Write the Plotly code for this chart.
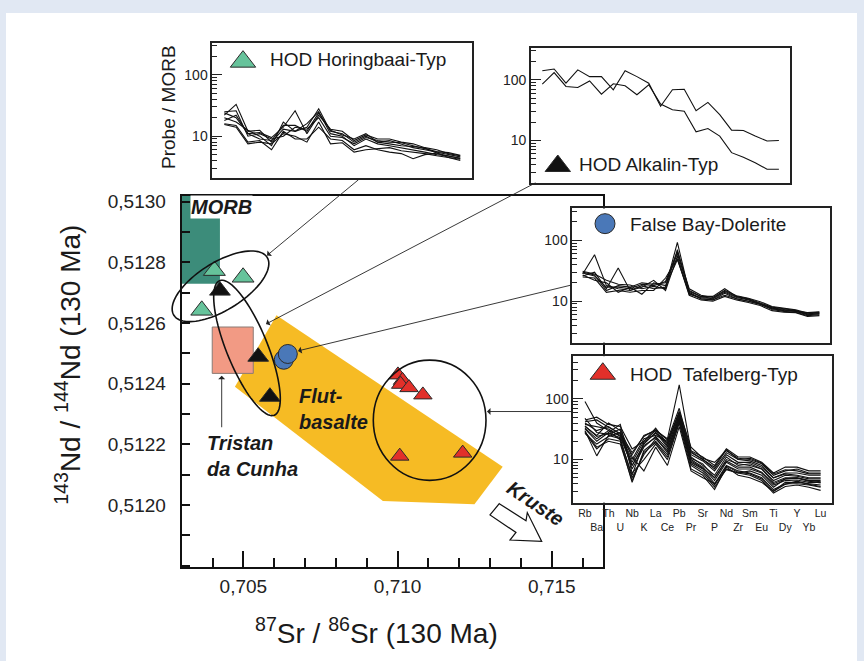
import numpy as np
import plotly.graph_objects as go

W, H = 864, 661
FONT = "Liberation Sans, Arial, sans-serif"


def PX(x):
    return x / W


def PY(y):
    return 1 - y / H


# ---------------- data ----------------
elements = ["Rb", "Ba", "Th", "U", "Nb", "K", "La", "Ce", "Pb", "Pr", "Sr",
            "P", "Nd", "Zr", "Sm", "Eu", "Ti", "Dy", "Y", "Yb", "Lu"]

# Sr-Nd isotope data (main diagram)
horingbaai_sr = [0.70406, 0.70499, 0.70365]
horingbaai_nd = [0.512773, 0.512751, 0.512642]
alkalin_sr = [0.70424, 0.70548, 0.70586]
alkalin_nd = [0.512707, 0.512489, 0.512357]
falsebay_sr = [0.70631, 0.70644]
falsebay_nd = [0.512479, 0.512498]
tafelberg_sr = [0.71001, 0.71016, 0.71010, 0.71037, 0.71082, 0.71007, 0.71211]
tafelberg_nd = [0.512429, 0.512411, 0.512398, 0.512387, 0.512363, 0.512161, 0.512171]

# fields
morb_sr = [0.70300, 0.70424]
morb_nd = [0.51273, 0.51302]
tristan_sr = [0.70399, 0.70532]
tristan_nd = [0.512434, 0.512587]
flood_sr = [0.706074, 0.713408, 0.712492, 0.709524, 0.704725]
flood_nd = [0.512626, 0.512126, 0.512002, 0.512013, 0.512390]

# spider diagrams (sample / MORB)
horingbaai_spider = [
    [22, 33, 12, 12.5, 8, 13, 12, 14, 28, 12, 11, 8, 10, 8, 8.5, 7.5, 6.5, 6, 5.5, 5, 4.6],
    [24, 20, 11, 11.5, 9.5, 14, 26, 11, 22, 13, 12, 8.5, 10.5, 9, 9, 8, 7.5, 6.5, 6, 5.2, 4.8],
    [20, 17, 12.5, 10, 7, 17, 12, 16, 25, 11, 10, 7, 9, 7.5, 7, 6.5, 6, 5.5, 5, 4.8, 4.3],
    [16, 15, 8, 8.5, 6, 12, 9, 9, 14, 9, 8.5, 6, 7, 6, 5.5, 5.2, 4.3, 5, 5.3, 4.5, 4.0],
    [15.5, 14, 7.5, 8, 7.5, 11, 10, 8, 17, 7.5, 7.8, 5.5, 6, 6.3, 6.5, 5.8, 5.5, 5.2, 4.8, 4.5, 4.2],
    [25, 26, 10, 11, 9, 10, 14, 13, 20, 10, 9.5, 7.5, 9.5, 8.5, 8, 7.8, 7, 6.2, 5.6, 5.4, 4.9],
    [18, 22, 11, 9, 8.5, 15, 15, 12, 24, 12.5, 10.5, 9, 11, 8, 7.5, 7, 6.8, 6.4, 5.3, 4.7, 4.4],
]
alkalin_spider = [
    [141, 151, 88, 146, 113, 113, 68.5, 141, 113, 88, 36.6, 68.5, 70, 31, 42.5, 26.7, 14.8, 14.6, 11.8, 9.8, 10],
    [85, 132, 77.7, 74.8, 96, 58, 86, 79.7, 56.8, 82.8, 40, 32.2, 30.3, 13.9, 15.7, 11.8, 6.3, 5.3, 4.3, 3.35, 3.35],
]
falsebay_spider = [
    [28, 58, 18, 16, 15, 18, 16, 17, 92, 14, 11, 10.5, 13.5, 11, 10, 8.8, 7.5, 7, 6.8, 6, 6.2],
    [26, 30, 16, 35, 15, 17, 22, 15, 55, 13, 11.5, 11, 14, 11.5, 10.5, 9, 7.8, 7.3, 6.8, 6.5, 6.7],
    [30, 27, 15, 18, 17, 20, 19, 20, 60, 15, 12, 12, 16, 12, 11, 9.5, 8, 7.5, 7, 6.2, 6.5],
    [25, 24, 14, 15, 14, 15, 15, 24, 50, 12.5, 10.5, 10, 12, 10.5, 9.5, 8.5, 7, 6.6, 6.5, 5.6, 5.8],
    [27, 22, 20, 14, 17, 13, 20, 18, 48, 13.5, 11, 10.5, 12.5, 11, 10, 9, 7.3, 6.8, 6.6, 5.8, 6.0],
    [29, 26, 17, 17, 16, 19, 18, 21, 65, 16, 12.5, 11.5, 15, 12.3, 11.2, 9.8, 8.2, 7.6, 7.2, 6.4, 6.6],
    [31, 28, 22, 19, 18.5, 16, 17.5, 16, 70, 14.5, 11.8, 11.2, 14.5, 11.8, 10.8, 9.2, 7.7, 7.1, 6.9, 6.1, 6.3],
]
tafelberg_spider = [
    [91, 40, 30, 25, 12, 25, 30, 22, 170, 14, 11, 8, 15, 11, 11, 9, 6, 7.5, 7.5, 6.5, 6.5],
    [45, 50, 38, 35, 15, 20, 33, 18, 60, 13, 10, 7, 13, 10, 9.5, 8, 5, 6, 6, 5.5, 5.5],
    [30, 11.5, 25, 22, 5, 12, 22, 14, 50, 9, 7, 4, 8, 6.5, 6, 5, 3.2, 4, 4, 3.8, 3.5],
    [35, 25, 40, 30, 8, 18, 28, 16, 55, 11, 8, 5.5, 11, 8, 8.5, 7, 4.2, 5, 5, 4.5, 4.5],
    [28, 15, 22, 20, 4.2, 14, 20, 12, 45, 8, 6, 3.5, 7, 6, 5.5, 4.5, 2.8, 3.6, 3.8, 3.5, 3.1],
    [40, 30, 35, 26, 10, 22, 25, 20, 58, 12, 9.5, 6.5, 12, 9, 9, 7.5, 5, 5.8, 5.5, 5, 5],
    [32, 20, 28, 38, 6, 10, 18, 10, 40, 7, 5.5, 3.2, 7.5, 5.5, 5, 4.2, 3, 4.2, 4.2, 4, 3.8],
    [27, 18, 24, 28, 7, 16, 24, 15, 48, 10, 7.5, 4.5, 9, 7, 7, 6, 3.8, 4.5, 4.6, 4.2, 4.2],
    [38, 35, 32, 24, 9, 20, 30, 17, 52, 10.5, 8.5, 5, 10, 8.5, 8, 7, 4.5, 5.5, 5.3, 4.8, 4.8],
    [48, 28, 26, 32, 11, 6.5, 16, 8, 35, 6.5, 5, 4, 6.8, 6, 6.5, 5.5, 3.5, 4.8, 5, 4.5, 4.3],
    [33, 22, 30, 21, 5.5, 19, 27, 19, 62, 16, 10.5, 9, 14, 10.5, 10, 8.5, 5.5, 6.5, 7, 6, 6],
    [29, 16, 20, 18, 4.5, 13, 19, 11, 42, 8.5, 6.5, 3.8, 7.8, 6.2, 5.8, 4.8, 3, 3.9, 4.4, 3.9, 3.6],
    [42, 45, 34, 27, 13, 24, 31, 21, 70, 13.5, 10, 7.5, 14.5, 10, 10.5, 8.8, 5.8, 6.8, 6.5, 5.8, 5.8],
    [36, 24, 27, 23, 8, 17, 23, 13, 46, 9.5, 7.2, 5, 9.5, 7.5, 7.5, 6.2, 4, 4.8, 4.9, 4.4, 4.1],
]

# ---------------- styling ----------------
GREEN = "#66c39b"
TEAL = "#3c8c7a"
SALMON = "#f29a84"
YELLOW = "#f6bb24"
RED = "#e2302a"
BLUE = "#4a78b8"
BLACK = "#111111"
BG = "#e1e8f3"

fig = go.Figure()

# ---- main diagram fields ----
fig.add_trace(go.Scatter(x=flood_sr + flood_sr[:1], y=flood_nd + flood_nd[:1], mode="lines",
                         fill="toself", fillcolor=YELLOW, line=dict(width=0, color=YELLOW),
                         hoverinfo="skip", showlegend=False))
fig.add_trace(go.Scatter(x=[morb_sr[0], morb_sr[1], morb_sr[1], morb_sr[0], morb_sr[0]],
                         y=[morb_nd[0], morb_nd[0], morb_nd[1], morb_nd[1], morb_nd[0]],
                         mode="lines", fill="toself", fillcolor=TEAL, line=dict(width=0, color=TEAL),
                         hoverinfo="skip", showlegend=False))
fig.add_trace(go.Scatter(x=[tristan_sr[0], tristan_sr[1], tristan_sr[1], tristan_sr[0], tristan_sr[0]],
                         y=[tristan_nd[0], tristan_nd[0], tristan_nd[1], tristan_nd[1], tristan_nd[0]],
                         mode="lines", fill="toself", fillcolor=SALMON, line=dict(width=1, color="#8a7a74"),
                         hoverinfo="skip", showlegend=False))

mk_line = dict(color="#2a2a2a", width=1)
fig.add_trace(go.Scatter(x=horingbaai_sr, y=horingbaai_nd, mode="markers", showlegend=False,
                         marker=dict(symbol="triangle-up", size=19, color=GREEN, line=mk_line)))
fig.add_trace(go.Scatter(x=alkalin_sr, y=alkalin_nd, mode="markers", showlegend=False,
                         marker=dict(symbol="triangle-up", size=18, color=BLACK, line=mk_line)))
fig.add_trace(go.Scatter(x=falsebay_sr, y=falsebay_nd, mode="markers", showlegend=False,
                         marker=dict(symbol="circle", size=19, color=BLUE, line=mk_line)))
fig.add_trace(go.Scatter(x=tafelberg_sr, y=tafelberg_nd, mode="markers", showlegend=False,
                         marker=dict(symbol="triangle-up", size=16, color=RED, line=mk_line)))

# ---- insets ----
insets = [
    ("2", [212.3, 471.7, 39.7, 174.7], [-1.02, 20.97], [0.324, 2.512], horingbaai_spider,
     dict(px=243, py=58, symbol="triangle-up", size=22, color=GREEN), "HOD Horingbaai-Typ", 268, 56),
    ("3", [531.0, 790.0, 44.7, 179.7], [-0.955, 20.94], [0.305, 2.518], alkalin_spider,
     dict(px=557.8, py=163, symbol="triangle-up", size=22, color=BLACK), "HOD Alkalin-Typ", 576.5, 161),
    ("4", [572.3, 830.0, 205.7, 340.7], [-0.88, 20.9], [0.32, 2.522], falsebay_spider,
     dict(px=605, py=221, symbol="circle", size=20, color=BLUE), "False Bay-Dolerite", 628, 221.5),
    ("5", [573.3, 831.7, 354.3, 501.7], [-0.99, 20.94], [0.289, 2.705], tafelberg_spider,
     dict(px=602.8, py=372, symbol="triangle-up", size=22, color=RED), "HOD\u00a0\u00a0Tafelberg-Typ", 628, 373),
]

xs_idx = list(range(len(elements)))
annotations = []
layout_axes = {}
minor_log = [2, 3, 4, 5, 6, 7, 8, 9, 20, 30, 40, 50, 60, 70, 80, 90, 200, 300, 400]

for aid, box, xr, yr, lines, leg, label, lx, ly in insets:
    for vals in lines:
        fig.add_trace(go.Scatter(x=xs_idx, y=vals, mode="lines", xaxis="x" + aid, yaxis="y" + aid,
                                 line=dict(color="#111", width=1.1), showlegend=False, hoverinfo="skip"))
    x0, x1, yt, yb = box
    lxd = xr[0] + (leg["px"] - x0) / (x1 - x0) * (xr[1] - xr[0])
    lyd = 10 ** (yr[1] - (leg["py"] - yt) / (yb - yt) * (yr[1] - yr[0]))
    fig.add_trace(go.Scatter(x=[lxd], y=[lyd], mode="markers", xaxis="x" + aid, yaxis="y" + aid,
                             showlegend=False, hoverinfo="skip", cliponaxis=False,
                             marker=dict(symbol=leg["symbol"], size=leg["size"], color=leg["color"],
                                         line=dict(color="#2a2a2a", width=1))))
    annotations.append(dict(x=PX(lx), y=PY(ly), xref="paper", yref="paper", text=label,
                            showarrow=False, xanchor="left", yanchor="middle",
                            font=dict(family=FONT, size=19, color="#1a1a1a")))
    is_taf = aid == "5"
    layout_axes["xaxis" + aid] = dict(
        domain=[PX(x0), PX(x1)], range=xr, anchor="y" + aid, showline=True, mirror=True,
        linecolor="#222", linewidth=1.6, showgrid=False, zeroline=False,
        ticks="", showticklabels=is_taf, tickangle=0,
        tickvals=xs_idx,
        ticktext=[e if i % 2 == 0 else "<br>" + e for i, e in enumerate(elements)],
        tickfont=dict(family=FONT, size=10.5, color="#222"))
    layout_axes["yaxis" + aid] = dict(
        domain=[PY(yb), PY(yt)], type="log", range=yr, anchor="x" + aid, showline=True, mirror=True,
        linecolor="#222", linewidth=1.6, showgrid=False, zeroline=False,
        ticks="inside", ticklen=10, tickwidth=1, tickcolor="#222",
        tickvals=[10, 100], ticktext=["10", "100"],
        tickfont=dict(family=FONT, size=14, color="#222"),
        minor=dict(tickvals=minor_log, ticks="inside", ticklen=5, tickwidth=1, tickcolor="#222",
                   showgrid=False))

# ---- shapes ----
shapes = [
    dict(type="rect", xref="paper", yref="paper", x0=PX(6), x1=PX(857), y0=PY(661), y1=PY(9),
         fillcolor="white", line=dict(width=0), layer="below"),
]


def ellipse_path(cx, cy, a, b, ang_deg, n=90):
    t = np.linspace(0, 2 * np.pi, n, endpoint=False)
    ang = np.deg2rad(ang_deg)
    xs = cx + a * np.cos(t) * np.cos(ang) - b * np.sin(t) * np.sin(ang)
    ys = cy + a * np.cos(t) * np.sin(ang) + b * np.sin(t) * np.cos(ang)
    pts = ["{:.5f},{:.5f}".format(PX(x), PY(y)) for x, y in zip(xs, ys)]
    return "M" + " L".join(pts) + " Z"


shapes.append(dict(type="path", xref="paper", yref="paper", path=ellipse_path(220.5, 284, 55, 24, -32),
                   line=dict(color="#111", width=1.6), layer="above"))
shapes.append(dict(type="path", xref="paper", yref="paper", path=ellipse_path(247, 346, 73, 20.5, 68),
                   line=dict(color="#111", width=1.6), layer="above"))
shapes.append(dict(type="circle", xref="paper", yref="paper", x0=PX(373.3), x1=PX(486),
                   y0=PY(479.3), y1=PY(358.3), line=dict(color="#111", width=1.6), layer="above"))
kr = [(499.3, 502.7), (526, 520), (527.3, 511.7), (541.7, 540.7), (510, 539.3), (516, 531.7), (490, 514)]
shapes.append(dict(type="path", xref="paper", yref="paper",
                   path="M" + " L".join("{:.5f},{:.5f}".format(PX(x), PY(y)) for x, y in kr) + " Z",
                   fillcolor="white", line=dict(color="#111", width=1.2), layer="above"))

# ---- texts ----
bi = dict(family=FONT, size=20, color="#1a1a1a")
C = dict(xref="paper", yref="paper", showarrow=False, xanchor="center", yanchor="middle")
annotations += [
    dict(C, x=PX(221.7), y=PY(204.7), text="<b><i>MORB</i></b>", font=bi, bgcolor="white", borderpad=0),
    dict(C, x=PX(297), y=PY(407), text="<b><i>Flut-<br>basalte</i></b>", align="left",
         xanchor="left", font=bi),
    dict(C, x=PX(205), y=PY(455), text="<b><i>Tristan<br>da Cunha</i></b>", align="left",
         xanchor="left", font=bi),
    dict(C, x=PX(535), y=PY(502), text="<b><i>Kruste</i></b>", textangle=34, font=bi),
    dict(C, x=PX(168.3), y=PY(103.3), text="Probe / MORB", textangle=-90,
         font=dict(family=FONT, size=19, color="#1a1a1a")),
    dict(C, x=PX(376), y=PY(631), text="<sup>87</sup>Sr / <sup>86</sup>Sr (130 Ma)",
         font=dict(family=FONT, size=28, color="#1a1a1a")),
    dict(C, x=PX(68), y=PY(363), text="<sup>143</sup>Nd / <sup>144</sup>Nd (130 Ma)", textangle=-90,
         font=dict(family=FONT, size=28, color="#1a1a1a")),
]

arrows = [((267, 253), (360, 176)), ((266, 322), (537, 180)), ((298, 349), (572, 283)),
          ((487, 410), (573, 410)), ((221.7, 374), (221.7, 427))]
for (hx, hy), (tx, ty) in arrows:
    annotations.append(dict(x=PX(hx), y=PY(hy), xref="paper", yref="paper", text="", showarrow=True,
                            ax=tx - hx, ay=ty - hy, axref="pixel", ayref="pixel", arrowhead=1,
                            arrowsize=1.3, arrowwidth=0.9, arrowcolor="#222", standoff=0))

fig.update_layout(
    width=W, height=H, autosize=False, margin=dict(l=0, r=0, t=0, b=0),
    paper_bgcolor=BG, plot_bgcolor="white", separators=",.",
    font=dict(family=FONT, color="#1a1a1a"),
    xaxis=dict(domain=[PX(181.7), PX(602.7)], range=[0.70300, 0.71665], anchor="y",
               showline=True, mirror=True, linecolor="#111", linewidth=2, showgrid=False, zeroline=False,
               ticks="inside", ticklen=16, tickwidth=1.5, tickcolor="#111",
               tickvals=[0.705, 0.710, 0.715], tickformat=".3f", ticklabelstandoff=2,
               tickfont=dict(family=FONT, size=19, color="#222"),
               minor=dict(dtick=0.001, tick0=0.703, ticks="inside", ticklen=9, tickwidth=1.5,
                          tickcolor="#111", showgrid=False)),
    yaxis=dict(domain=[PY(566), PY(193)], range=[0.5117967, 0.5130197], anchor="x",
               showline=True, mirror=True, linecolor="#111", linewidth=2, showgrid=False, zeroline=False,
               ticks="inside", ticklen=8, tickwidth=1.5, tickcolor="#111",
               tickvals=[0.5120, 0.5122, 0.5124, 0.5126, 0.5128, 0.5130], tickformat=".4f",
               ticklabelstandoff=10, tickfont=dict(family=FONT, size=19, color="#222"),
               minor=dict(dtick=0.0001, tick0=0.5118, ticks="inside", ticklen=8, tickwidth=1.5,
                          tickcolor="#111", showgrid=False)),
    shapes=shapes, annotations=annotations, showlegend=False,
    **layout_axes,
)

fig.write_html("out.html", config={"displayModeBar": False},
               post_script="document.body.style.margin='0';document.body.style.background='" + BG + "';")
